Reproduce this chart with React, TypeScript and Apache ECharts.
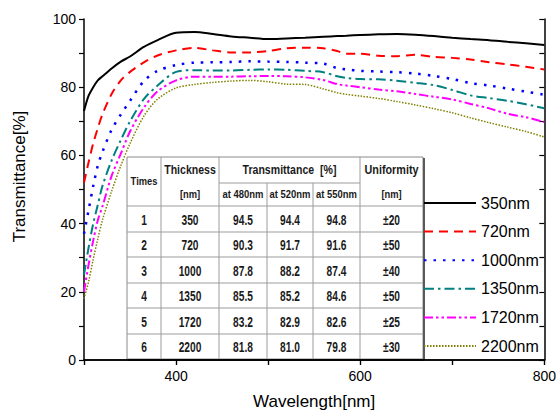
import React, { useEffect, useRef } from "react";
import * as echarts from "echarts";

// Wavelength grid (nm) shared by all spectra
const wavelengths = [300, 305, 310, 315, 320, 330, 340, 350, 365, 380, 400, 420, 440, 460, 480, 500, 520, 540, 560, 575, 585, 600, 620, 640, 660, 680, 700, 720, 740, 760, 780, 800];

// Transmittance (%) for each film thickness
const t350 = [73, 77.5, 80, 82, 83.2, 85.5, 87.5, 89, 91.8, 93.8, 96, 96.2, 95.6, 94.9, 94.5, 94.1, 94.3, 94.5, 94.8, 95, 95.1, 95.3, 95.5, 95.6, 95.4, 95, 94.5, 94.1, 93.8, 93.3, 92.9, 92.4];
const t720 = [52, 58, 63.5, 68, 72, 78, 82, 84.5, 87.3, 89.3, 90.8, 91.5, 90.8, 90.2, 90.2, 90.6, 91.4, 91.6, 91.4, 90.6, 89.8, 89.8, 89.2, 89.1, 89.5, 88.9, 88.6, 88.1, 87.3, 86.7, 86, 85.2];
const t1000 = [37, 44, 51, 57, 61, 67.5, 72, 76, 81.8, 84.8, 86.5, 87.2, 87.3, 87.4, 87.6, 87.5, 87.4, 87.2, 86.9, 85.6, 85.2, 84.8, 84.6, 84.4, 84, 83.3, 82.4, 81.2, 80.5, 79.6, 78.7, 77.8];
const t1350 = [25, 33, 40, 45.5, 51, 58.5, 64.5, 70, 76.5, 80.5, 84.5, 85, 84.9, 84.9, 85.1, 85.2, 85.1, 84.8, 84.4, 83.2, 82.7, 82.4, 82.3, 81.9, 81.3, 80.6, 79.2, 77.6, 76.8, 76, 75, 73.8];
const t1720 = [20, 28, 35, 41, 45, 54, 60.5, 67, 74, 78.8, 82, 83.1, 83.1, 83.1, 83.2, 83.3, 83.2, 82.9, 82.1, 80.9, 80.5, 80, 79.3, 78.8, 78, 77.2, 76.4, 75.1, 73.8, 72.2, 71.2, 69.8];
const t2200 = [18, 23, 29.5, 35.5, 41, 49.5, 57, 63.5, 71.5, 76.5, 79.8, 80.8, 81.4, 81.8, 82, 81.6, 80.9, 80.8, 79.5, 78.4, 77.9, 77.4, 76.7, 75.8, 74.8, 73.7, 72.5, 71, 69.6, 68.3, 67, 65.4];

const seriesNames = ["350nm", "720nm", "1000nm", "1350nm", "1720nm", "2200nm"];
const seriesValues = [t350, t720, t1000, t1350, t1720, t2200];

// Inset table values
const tableTimes = ["1", "2", "3", "4", "5", "6"];
const tableThickness = ["350", "720", "1000", "1350", "1720", "2200"];
const trans480 = [94.5, 90.3, 87.8, 85.5, 83.2, 81.8];
const trans520 = [94.4, 91.7, 88.2, 85.2, 82.9, 81.0];
const trans550 = [94.8, 91.6, 87.4, 84.6, 82.6, 79.8];
const uniformity = ["±20", "±50", "±40", "±50", "±25", "±30"];

const lineStyles = [
  { color: "#000000", width: 2, type: "solid" },
  { color: "#ff0000", width: 2, type: [9, 6] },
  { color: "#0000ff", width: 2.5, type: [2.5, 7] },
  { color: "#008080", width: 2, type: [10, 4, 2.5, 4] },
  { color: "#ff00ff", width: 2, type: [9, 3, 2.5, 3, 2.5, 3] },
  { color: "#808000", width: 1.5, type: [1.5, 1.5] },
];

const TABLE_FONT = "'Liberation Sans', Arial, sans-serif";

function buildTable() {
  const colX = [127, 161, 219, 267, 313, 360, 423];
  const rowY = [157, 206, 232, 257, 283, 308, 334, 359];
  const subY = 183;
  const els: any[] = [];
  const line = (x1: number, y1: number, x2: number, y2: number, color = "#9c9c9c", w = 1) =>
    els.push({ type: "line", shape: { x1, y1, x2, y2 }, style: { stroke: color, lineWidth: w }, silent: true });
  // condensed bold text, centred on (x, y)
  const text = (x: number, y: number, t: string, size: number, sx: number) =>
    els.push({
      type: "text",
      x,
      y,
      scaleX: sx,
      style: { text: t, align: "center", verticalAlign: "middle", fontSize: size, fontWeight: "bold", fontFamily: TABLE_FONT, fill: "#1a1a1a" },
      silent: true,
    });

  els.push({
    type: "rect",
    shape: { x: colX[0], y: rowY[0], width: colX[6] - colX[0], height: rowY[7] - rowY[0] },
    style: { fill: "#ffffff", stroke: "#8a8a8a", lineWidth: 1 },
    silent: true,
  });
  // shaded outer edges
  line(colX[0] + 1, rowY[7] + 1, colX[6] + 1, rowY[7] + 1, "#5a5a5a", 2);
  line(colX[6] + 1, rowY[0] + 1, colX[6] + 1, rowY[7] + 1, "#5a5a5a", 2);
  for (let i = 1; i < colX.length - 1; i++) {
    const top = i === 3 || i === 4 ? subY : rowY[0];
    line(colX[i], top, colX[i], rowY[7]);
  }
  for (let j = 1; j < rowY.length - 1; j++) line(colX[0], rowY[j], colX[6], rowY[j]);
  line(colX[2], subY, colX[5], subY);

  const cx = (i: number) => (colX[i] + colX[i + 1]) / 2;
  text(cx(0), (rowY[0] + rowY[1]) / 2, "Times", 11, 0.85);
  text(cx(1), 170, "Thickness", 12, 0.88);
  text(cx(1), 194, "[nm]", 11, 0.85);
  text((colX[2] + colX[5]) / 2, 170, "Transmittance  [%]", 12, 0.88);
  text(cx(2), 194, "at 480nm", 11, 0.86);
  text(cx(3), 194, "at 520nm", 11, 0.86);
  text(cx(4), 194, "at 550nm", 11, 0.86);
  text(cx(5), 170, "Uniformity", 12, 0.9);
  text(cx(5), 194, "[nm]", 11, 0.85);

  for (let r = 0; r < tableTimes.length; r++) {
    const y = (rowY[r + 1] + rowY[r + 2]) / 2 + 0.5;
    text(cx(0), y, tableTimes[r], 15, 0.68);
    text(cx(1), y, tableThickness[r], 15, 0.68);
    text(cx(2), y, trans480[r].toFixed(1), 15, 0.68);
    text(cx(3), y, trans520[r].toFixed(1), 15, 0.68);
    text(cx(4), y, trans550[r].toFixed(1), 15, 0.68);
    text(cx(5), y, uniformity[r], 15, 0.68);
  }
  return { type: "group", z: 50, children: els };
}

export default function App() {
  const ref = useRef<HTMLDivElement>(null);

  useEffect(() => {
    if (!ref.current) return;
    const chart = echarts.init(ref.current, null, { renderer: "svg" });
    const axisLine = { show: true, lineStyle: { color: "#000", width: 1.5 } };
    chart.setOption({
      animation: false,
      backgroundColor: "#ffffff",
      textStyle: { fontFamily: "'Liberation Sans', Arial, sans-serif", color: "#000" },
      grid: { left: 84, right: 11, top: 19, bottom: 52 },
      legend: {
        orient: "vertical",
        left: 423,
        top: 195,
        padding: 0,
        itemWidth: 52,
        itemHeight: 14,
        itemGap: 12.6,
        data: seriesNames,
        itemStyle: { opacity: 0 },
        textStyle: { fontSize: 16, color: "#000", lineHeight: 16, padding: [0, 0, 0, 0] },
      },
      xAxis: [
        {
          type: "value",
          position: "bottom",
          min: 300,
          max: 800,
          interval: 100,
          axisLine,
          axisTick: { show: true, inside: false, length: 5, lineStyle: { color: "#000", width: 1.2 } },
          axisLabel: { fontSize: 14, color: "#000", margin: 9, formatter: (v: number) => (v % 200 === 0 ? String(v) : "") },
          splitLine: { show: false },
          name: "Wavelength[nm]",
          nameLocation: "middle",
          nameGap: 33,
          nameTextStyle: { fontSize: 17, color: "#000" },
        },
        {
          type: "value",
          position: "top",
          min: 300,
          max: 800,
          interval: 100,
          axisLine,
          axisTick: { show: true, inside: true, length: 5, lineStyle: { color: "#000", width: 1.2 } },
          axisLabel: { show: false },
          splitLine: { show: false },
        },
      ],
      yAxis: [
        {
          type: "value",
          position: "left",
          min: 0,
          max: 100,
          interval: 10,
          axisLine,
          axisTick: { show: true, inside: false, length: 5, lineStyle: { color: "#000", width: 1.2 } },
          axisLabel: { fontSize: 14, color: "#000", margin: 8, formatter: (v: number) => (v % 20 === 0 ? String(v) : "") },
          splitLine: { show: false },
          name: "Transmittance[%]",
          nameLocation: "middle",
          nameGap: 56,
          nameTextStyle: { fontSize: 17, color: "#000", padding: [0, 0, 0, 26] },
        },
        {
          type: "value",
          position: "right",
          min: 0,
          max: 100,
          interval: 10,
          axisLine,
          axisTick: { show: true, inside: true, length: 5, lineStyle: { color: "#000", width: 1.2 } },
          axisLabel: { show: false },
          splitLine: { show: false },
        },
      ],
      series: seriesNames.map((name, i) => ({
        name,
        type: "line",
        xAxisIndex: 0,
        yAxisIndex: 0,
        data: wavelengths.map((w, k) => [w, seriesValues[i][k]]),
        showSymbol: false,
        symbol: "none",
        smooth: 0.3,
        color: lineStyles[i].color,
        lineStyle: lineStyles[i],
      })),
      graphic: [buildTable()],
    });
    return () => chart.dispose();
  }, []);

  return (
    <div
      ref={ref}
      style={{ position: "fixed", left: 0, top: 0, width: 559, height: 415, background: "#fff" }}
    />
  );
}
